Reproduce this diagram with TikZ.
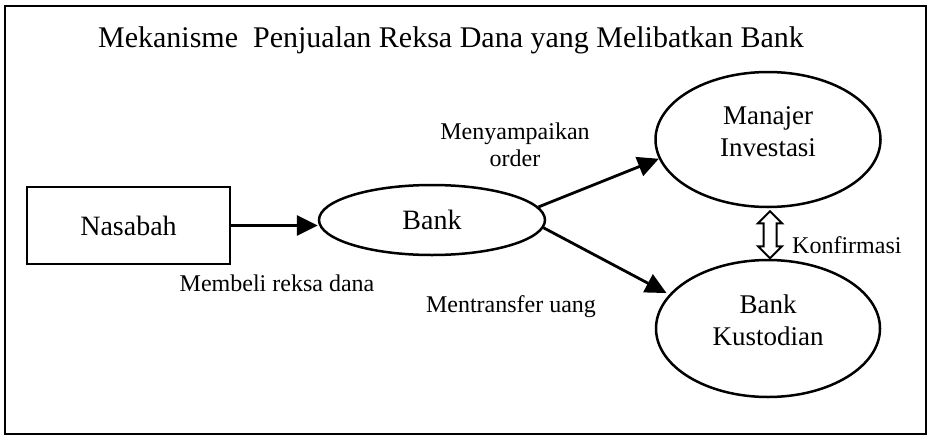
\documentclass[tikz,border=0pt]{standalone}
\usepackage{fontspec}
\setmainfont{Liberation Serif}
\usepackage{tikz}
\usetikzlibrary{arrows.meta, positioning, shapes.geometric, calc}

\begin{document}
\begin{tikzpicture}[
        x=1pt, y=-1pt,
        party/.style={ellipse, draw=black, line width=2.5pt, inner sep=0pt, align=center, font=\fontsize{27}{32}\selectfont, text depth=16pt},
        box/.style={rectangle, draw=black, line width=2.5pt, inner sep=0pt, align=center, font=\fontsize{28}{32}\selectfont},
        lbl/.style={inner sep=0pt, align=center, font=\fontsize{24}{27}\selectfont},
        arrow/.style={-{Triangle[length=21pt, width=20pt]}, line width=2.8pt, draw=black},
        confarrow/.style={draw=black, line width=2pt, line join=miter},
    ]
        \useasboundingbox (0,0) rectangle (929,437);
        \draw[line width=2pt] (5,6) rectangle (926,434);

        % Title
        \node[anchor=base, inner sep=0pt, font=\fontsize{30}{36}\selectfont] (title) at (451,47) {Mekanisme\ \ Penjualan Reksa Dana yang Melibatkan Bank};

        % Parties
        \node[box, minimum width=203pt, minimum height=77pt] (nasabah) at (128.5,225.5) {Nasabah};
        \node[ellipse, draw=black, line width=2.5pt, inner sep=0pt, font=\fontsize{28}{32}\selectfont, minimum width=226pt, minimum height=70pt] (bank) at (432,220) {Bank};
        \node[party, minimum width=225pt, minimum height=135pt] (manajer) at (768,139.5) {Manajer\\Investasi};
        \node[party, minimum width=224pt, minimum height=137pt] (kustodian) at (768,328.5) {Bank\\Kustodian};

        % Arrows
        \draw[arrow] (nasabah.east) -- (nasabah.east -| bank.west);
        \draw[arrow] (bank.7) -- (manajer.190);
        \draw[arrow, shorten >=3pt] (bank.-4) -- (kustodian.161);

        % Hollow double arrow between the two ellipses
        \draw[confarrow] ($(manajer.south)+(2,3)$) -- ++(12,12) -- ++(-5.5,0) -- ++(0,23) -- ++(5.5,0)
            -- ++(-12,12) -- ++(-12,-12) -- ++(5.5,0) -- ++(0,-23) -- ++(-5.5,0) -- cycle;

        % Labels
        \node[lbl, anchor=base] (beli) at (277,291) {Membeli reksa dana};
        \node[lbl] (order) at (515,145) {Menyampaikan\\order};
        \node[lbl, anchor=base] (transfer) at (511,312) {Mentransfer uang};
        \node[lbl, anchor=base west] (konfirmasi) at (792,253) {Konfirmasi};
    \end{tikzpicture}
\end{document}
